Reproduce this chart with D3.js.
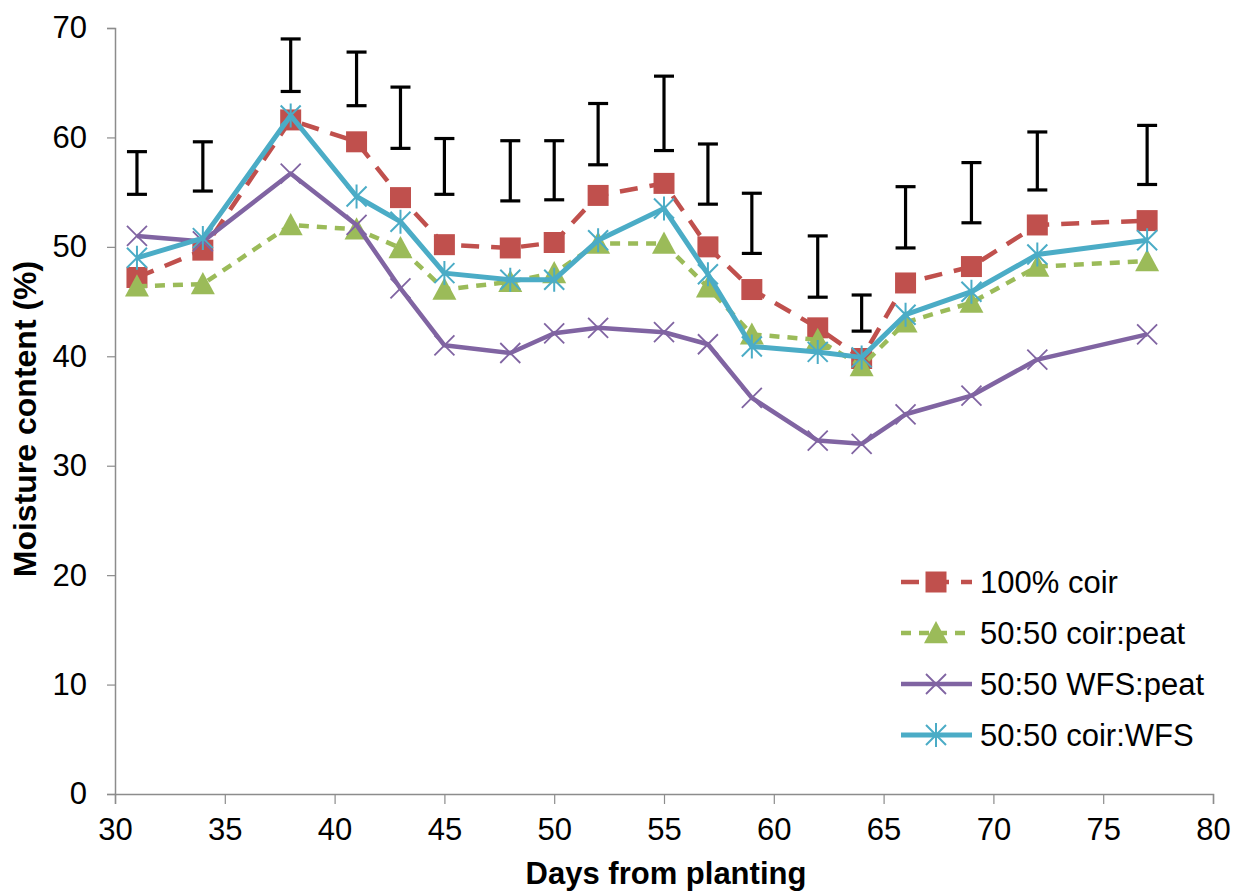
<!DOCTYPE html>
<html>
<head>
<meta charset="utf-8">
<script src="https://cdn.jsdelivr.net/npm/d3@7"></script>
<style>
  body { margin: 0; background: #fff; }
  text { font-family: "Liberation Sans", Arial, sans-serif; }
</style>
</head>
<body>
<div id="chart"></div>
<script>
var days = [31, 34, 38, 41, 43, 45, 48, 50, 52, 55, 57, 59, 62, 64, 66, 69, 72, 77];

var coir100 = [47.2, 49.7, 61.6, 59.6, 54.5, 50.2, 49.9, 50.4, 54.7, 55.8, 50.0, 46.1, 42.6, 39.8, 46.7, 48.2, 52.0, 52.4];
var coirPeat = [46.4, 46.6, 52.0, 51.6, 49.9, 46.1, 46.8, 47.6, 50.3, 50.3, 46.3, 42.0, 41.5, 39.1, 43.1, 44.9, 48.2, 48.7];
var wfsPeat = [51.0, 50.5, 56.7, 52.0, 46.2, 41.0, 40.3, 42.1, 42.6, 42.2, 41.1, 36.2, 32.3, 32.0, 34.7, 36.4, 39.7, 42.0];
var coirWfs = [49.0, 50.8, 62.0, 54.6, 52.3, 47.6, 47.0, 47.0, 50.6, 53.5, 47.5, 40.9, 40.4, 39.9, 43.8, 45.9, 49.3, 50.6];

var barTop = [58.7, 59.6, 69.0, 67.8, 64.6, 59.9, 59.7, 59.7, 63.1, 65.6, 59.4, 54.9, 51.0, 45.6, 55.5, 57.7, 60.5, 61.1];
var barBottom = [54.8, 55.1, 64.2, 62.9, 59.0, 54.8, 54.2, 54.3, 57.5, 58.8, 53.9, 49.4, 45.4, 42.3, 49.9, 52.2, 55.2, 55.7];

var xTicks = [30, 35, 40, 45, 50, 55, 60, 65, 70, 75, 80];
var yTicks = [0, 10, 20, 30, 40, 50, 60, 70];

var width = 1234, height = 894;
var x = d3.scaleLinear().domain([30, 80]).range([115, 1213]);
var y = d3.scaleLinear().domain([0, 70]).range([794, 28]);

var svg = d3.select("#chart").append("svg")
  .attr("width", width).attr("height", height);

// marker shapes
var square = function(r) { return "M" + (-r) + "," + (-r) + "h" + 2*r + "v" + 2*r + "h" + (-2*r) + "Z"; };
var triangle = function(r) { return "M0," + (-r) + "L" + r + "," + r*0.85 + "L" + (-r) + "," + r*0.85 + "Z"; };
var cross = function(r) { return "M" + (-r) + "," + (-r) + "L" + r + "," + r + "M" + (-r) + "," + r + "L" + r + "," + (-r); };
var star = function(r) { return cross(r) + "M0," + (-r*1.2) + "L0," + r*1.2; };

var series = [
  {name: "100% coir", values: coir100, color: "#C0504D", dash: "18,12", width: 4.5,
   marker: square(10.5), mFill: "#C0504D", mStroke: "none", mWidth: 0},
  {name: "50:50 coir:peat", values: coirPeat, color: "#9BBB59", dash: "10,8", width: 4.5,
   marker: triangle(12), mFill: "#9BBB59", mStroke: "none", mWidth: 0},
  {name: "50:50 WFS:peat", values: wfsPeat, color: "#8064A2", dash: null, width: 4.5,
   marker: cross(10), mFill: "none", mStroke: "#8064A2", mWidth: 1.8},
  {name: "50:50 coir:WFS", values: coirWfs, color: "#4BACC6", dash: null, width: 5,
   marker: star(10), mFill: "none", mStroke: "#4BACC6", mWidth: 2}
];

// axes
var xAxis = svg.append("g")
  .attr("transform", "translate(0,794)")
  .call(d3.axisBottom(x).tickValues(xTicks).tickSize(10).tickPadding(14));
var yAxis = svg.append("g")
  .attr("transform", "translate(115,0)")
  .call(d3.axisLeft(y).tickValues(yTicks).tickSize(8).tickPadding(20));

[xAxis, yAxis].forEach(function(a) {
  a.select(".domain").attr("stroke", "#8c8c8c").attr("stroke-width", 1.5);
  a.selectAll(".tick line").attr("stroke", "#8c8c8c").attr("stroke-width", 1.2);
  a.selectAll(".tick text").attr("font-size", 31).attr("fill", "#000")
    .attr("font-family", "'Liberation Sans', Arial, sans-serif");
});

svg.append("text")
  .attr("x", 666).attr("y", 884)
  .attr("text-anchor", "middle")
  .attr("font-size", 31).attr("font-weight", "bold")
  .text("Days from planting");

svg.append("text")
  .attr("transform", "translate(36,419) rotate(-90)")
  .attr("text-anchor", "middle")
  .attr("font-size", 32).attr("font-weight", "bold")
  .text("Moisture content (%)");

// error bars
var bars = svg.append("g").attr("stroke", "#000").attr("stroke-width", 3.2);
days.forEach(function(d, i) {
  var cx = x(d);
  bars.append("line").attr("x1", cx).attr("x2", cx).attr("y1", y(barTop[i])).attr("y2", y(barBottom[i]));
  bars.append("line").attr("x1", cx - 10).attr("x2", cx + 10).attr("y1", y(barTop[i])).attr("y2", y(barTop[i]));
  bars.append("line").attr("x1", cx - 10).attr("x2", cx + 10).attr("y1", y(barBottom[i])).attr("y2", y(barBottom[i]));
});

var line = d3.line()
  .x(function(d) { return x(d[0]); })
  .y(function(d) { return y(d[1]); });

series.forEach(function(s) {
  var pts = days.map(function(d, i) { return [d, s.values[i]]; });
  svg.append("path")
    .datum(pts)
    .attr("d", line)
    .attr("fill", "none")
    .attr("stroke", s.color)
    .attr("stroke-width", s.width)
    .attr("stroke-linejoin", "round")
    .attr("stroke-dasharray", s.dash);
  svg.append("g").selectAll("path")
    .data(pts)
    .enter().append("path")
    .attr("transform", function(d) { return "translate(" + x(d[0]) + "," + y(d[1]) + ")"; })
    .attr("d", s.marker)
    .attr("fill", s.mFill)
    .attr("stroke", s.mStroke)
    .attr("stroke-width", s.mWidth);
});

// legend
var legend = svg.append("g");
series.forEach(function(s, i) {
  var ly = 582 + i * 51;
  legend.append("line")
    .attr("x1", 901).attr("x2", 972).attr("y1", ly).attr("y2", ly)
    .attr("stroke", s.color).attr("stroke-width", s.width)
    .attr("stroke-dasharray", s.dash);
  legend.append("path")
    .attr("transform", "translate(936," + ly + ")")
    .attr("d", s.marker)
    .attr("fill", s.mFill)
    .attr("stroke", s.mStroke)
    .attr("stroke-width", s.mWidth);
  legend.append("text")
    .attr("x", 980).attr("y", ly + 11)
    .attr("font-size", 31)
    .text(s.name);
});
</script>
</body>
</html>
